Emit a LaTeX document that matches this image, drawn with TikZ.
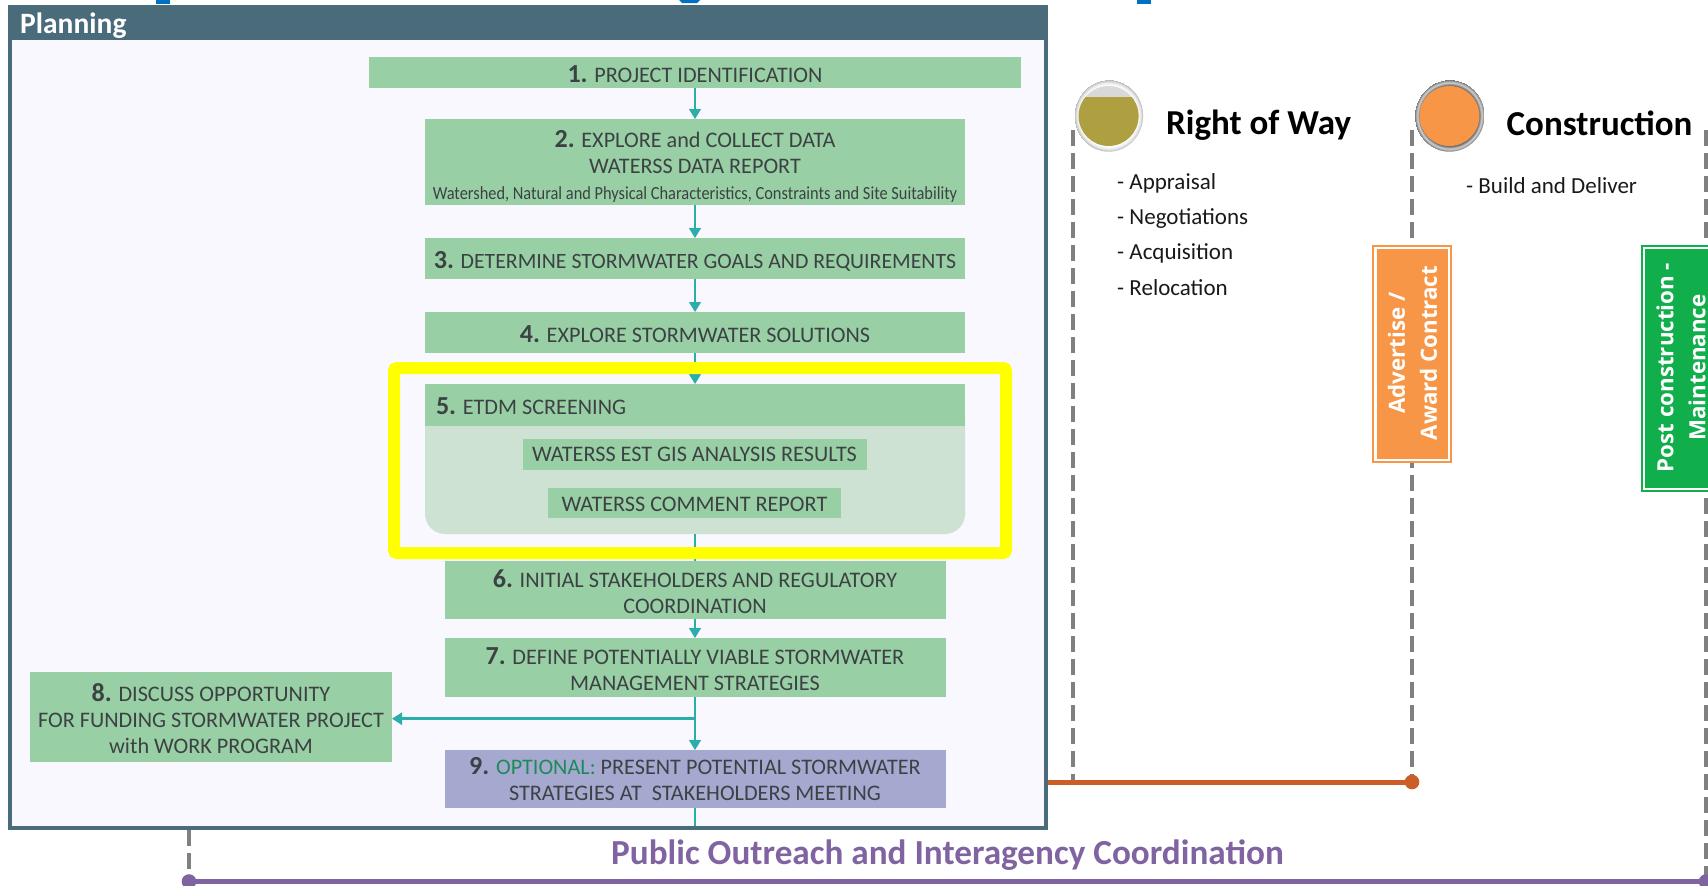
\documentclass[tikz,border=0pt]{standalone}
\usepackage{fontspec}
\usepackage{graphicx}
\setmainfont{Carlito}
\newfontfamily\opensans{Open Sans}
\usetikzlibrary{arrows.meta,shadings}
\definecolor{boxgreen}{HTML}{99CFA4}
\definecolor{bodygreen}{HTML}{CEE2D3}
\definecolor{boxblue}{HTML}{A5A9D0}
\definecolor{panelblue}{HTML}{4A6B7A}
\definecolor{panelfill}{HTML}{F8F8FE}
\definecolor{teal2}{HTML}{2BAEA9}
\definecolor{inktext}{HTML}{3C4244}
\definecolor{optgreen}{HTML}{1E8A5A}
\definecolor{yell}{HTML}{FFFF00}
\definecolor{purp}{HTML}{8064A2}
\definecolor{rust}{HTML}{CB5E26}
\definecolor{dashgrey}{HTML}{808080}
\definecolor{olive}{HTML}{AE9F40}
\definecolor{orng}{HTML}{F79646}
\definecolor{grn}{HTML}{10AF4C}
\definecolor{bluetitle}{HTML}{0070C0}
% #1 = how far the text sits below the centre of its box, in px
\newcommand{\dn}[1]{\rule{0pt}{\dimexpr 16pt+2\dimexpr #1pt\relax\relax}}
\newcommand{\num}[2]{\dn{#1}{\fontsize{26}{26}\selectfont\bfseries #2}}
\pgfdeclareradialshading{ringlight}{\pgfpointorigin}{color(0bp)=(white); color(21bp)=(white); color(23bp)=(black!8); color(25bp)=(black!28)}
\pgfdeclareradialshading{ringdark}{\pgfpointorigin}{color(0bp)=(black!50); color(21bp)=(black!60); color(23bp)=(black!18); color(25bp)=(black!55)}
\tikzset{
  stepbox/.style={fill=boxgreen,draw=none,inner sep=0pt,outer sep=0pt,align=center,text=inktext,
    font=\fontsize{22.2}{26}\selectfont},
  subbox/.style={stepbox},
  flow/.style={draw=teal2,line width=1.4pt,-{Triangle[length=10pt,width=12pt]}},
  flowplain/.style={draw=teal2,line width=1.4pt},
  gdash/.style={draw=dashgrey,line width=3.2pt,dash pattern=on 16pt off 7pt},
  tag/.style={rotate=90,align=center,text=white,inner sep=0pt,
    font=\opensans\bfseries\fontsize{22.3}{32}\selectfont},
  listitem/.style={anchor=west,inner sep=0pt,text=black!90,font=\fontsize{23}{26}\selectfont},
  phase/.style={anchor=west,inner sep=0pt,text=black,font=\bfseries\fontsize{35}{36}\selectfont},
}
\begin{document}
\begin{tikzpicture}[x=1pt,y=-1pt]
\useasboundingbox (0,0) rectangle (1708,886);
\clip (0,0) rectangle (1708,886);
% cut-off title fragments
\fill[bluetitle] (156,0) rectangle (170,3.5);
\fill[bluetitle] (679,0) -- (700,0) -- (697,3) -- (682,3) -- cycle;
\fill[bluetitle] (1137,0) rectangle (1151,3.5);
% panel
\node[draw=panelblue,fill=panelfill,line width=4.5pt,minimum width=1036pt,minimum height=821pt,inner sep=0pt,outer sep=0pt] (panel) at (528,417.5) {};
\fill[panelblue] (8,5) rectangle (1048,40);
\node[anchor=west,inner sep=0pt,text=white,font=\bfseries\fontsize{29.5}{30}\selectfont] (plan) at (20,25.5) {Planning};
% boxes
\node[stepbox,minimum width=652pt,minimum height=31pt] (b1) at (695,72.5) {\num{2.2}{1.} PROJECT IDENTIFICATION};
\node[stepbox,minimum width=540pt,minimum height=86pt] (b2) at (695,162) {\num{5}{2.} EXPLORE and COLLECT DATA\\WATERSS DATA REPORT\\{\fontsize{18.5}{26}\selectfont\scalebox{.885}[1]{Watershed, Natural and Physical Characteristics, Constraints and Site Suitability}}};
\node[stepbox,minimum width=540pt,minimum height=41pt,font=\fontsize{21.8}{26}\selectfont] (b3) at (695,258.5) {\num{3}{3.} DETERMINE STORMWATER GOALS AND REQUIREMENTS};
\node[stepbox,minimum width=540pt,minimum height=41pt] (b4) at (695,332.5) {\num{1.6}{4.} EXPLORE STORMWATER SOLUTIONS};
% box 5
\fill[bodygreen,rounded corners=20pt] (425,400) rectangle (965,534);
\node[stepbox,minimum width=540pt,minimum height=42pt,text width=518pt,align=flush left] (b5) at (695,405) {\num{1.5}{5.} ETDM SCREENING};
\node[subbox,minimum width=344pt,minimum height=31pt] (s1) at (694.5,454.5) {WATERSS EST GIS ANALYSIS RESULTS};
\node[subbox,minimum width=293pt,minimum height=30pt] (s2) at (694.5,503) {\dn{0.8}WATERSS COMMENT REPORT};
\coordinate (b5s) at (695,534);
\node[stepbox,minimum width=501pt,minimum height=58pt] (b6) at (695,590) {\num{2.2}{6.} INITIAL STAKEHOLDERS AND REGULATORY\\COORDINATION};
\node[stepbox,minimum width=501pt,minimum height=59pt] (b7) at (695,667.5) {\num{2}{7.} DEFINE POTENTIALLY VIABLE STORMWATER\\MANAGEMENT STRATEGIES};
\node[stepbox,minimum width=362pt,minimum height=90pt] (b8) at (211,717) {\num{3}{8.} DISCUSS OPPORTUNITY\\FOR FUNDING STORMWATER PROJECT\\with WORK PROGRAM};
\node[stepbox,fill=boxblue,minimum width=501pt,minimum height=58pt] (b9) at (695,779) {\num{0}{9.} {\color{optgreen}OPTIONAL:} PRESENT POTENTIAL STORMWATER\\STRATEGIES AT\ \ STAKEHOLDERS MEETING};
% connectors
\draw[flow] (b1.south) -- (b2.north);
\draw[flow] (b2.south) -- (b3.north);
\draw[flow] (b3.south) -- (b4.north);
\draw[flow] (b4.south) -- (b5.north);
\draw[flowplain] (b5s) -- (b6.north);
\draw[flow] (b6.south) -- (b7.north);
\draw[flow] (b7.south) -- (b9.north);
\coordinate (j8) at ([yshift=-1.7pt]b7.south |- b8.east);
\draw[flow,line width=2.6pt] (j8) -- ([yshift=-1.7pt]b8.east);
\coordinate (pb) at (695,826);
\draw[flowplain] (b9.south) -- (pb);
% highlight
\draw[yell,line width=12pt,rounded corners=3pt] (394,368) rectangle (1006,553);
% dashed guides
\coordinate (d1a) at (1073,130); \coordinate (d1b) at (1073,782);
\coordinate (d2a) at (1412,130); \coordinate (d2b) at (1412,782);
\coordinate (d3a) at (1706,130); \coordinate (d3b) at (1706,881.5);
\coordinate (d0a) at (189,830); \coordinate (d0b) at (189,881.5);
\draw[gdash] (d1a) -- (d1b);
\draw[gdash] (d2a) -- (d2b);
\draw[gdash] (d3a) -- (d3b);
\draw[gdash] (d0a) -- (d0b);
% timelines
\coordinate (rustl) at (1048,782);
\draw[rust,line width=5pt] (rustl) -- (d2b);
\fill[rust] (d2b) circle (7.3pt);
\draw[purp,line width=5pt] (d0b) -- (d3b);
\fill[purp] (d0b) circle (7.3pt);
\fill[purp] (d3b) circle (7.3pt);
\node[inner sep=0pt,text=purp,font=\bfseries\fontsize{35.2}{36}\selectfont] (pub) at (947.5,855) {Public Outreach and Interagency Coordination};
% discs
\shade[shading=ringlight] (1108.6,115.7) ellipse [x radius=34.5pt,y radius=36pt];
\begin{scope}
\clip (1108.6,116) ellipse [x radius=30pt,y radius=30pt];
\fill[black!15] (1070,80) rectangle (1150,97);
\fill[olive] (1070,97) rectangle (1150,150);
\end{scope}
\shade[shading=ringdark] (1449.5,115.7) ellipse [x radius=35pt,y radius=36pt];
\fill[orng] (1449.5,116) ellipse [x radius=30pt,y radius=30pt];
\node[phase] (row) at (1166,125) {Right of Way};
\node[phase] (con) at (1506.5,123) {Construction};
\node[listitem] (l1) at (1117,183) {- Appraisal};
\node[listitem] (l2) at (1117,219) {- Negotiations};
\node[listitem] (l3) at (1117,253.5) {- Acquisition};
\node[listitem] (l4) at (1117,288) {- Relocation};
\node[listitem] (l5) at (1466,186) {- Build and Deliver};
% milestone tags
\node[draw=orng,fill=white,line width=1.8pt,minimum width=78pt,minimum height=216pt,inner sep=0pt,outer sep=0pt] (adv) at (1412,354) {};
\node[fill=orng,minimum width=71pt,minimum height=210pt,inner sep=0pt] (advin) at (1412,354) {};
\node[tag] (advt) at (1412.5,353) {Advertise /\\Award Contract};
\node[draw=grn,fill=white,line width=1.8pt,minimum width=90pt,minimum height=245pt,inner sep=0pt,outer sep=0pt] (post) at (1687,368.5) {};
\node[fill=grn,minimum width=80pt,minimum height=239pt,inner sep=0pt] (postin) at (1685,368.5) {};
\node[tag] (postt) at (1681,367.5) {Post construction -\\Maintenance};
\end{tikzpicture}
\end{document}
